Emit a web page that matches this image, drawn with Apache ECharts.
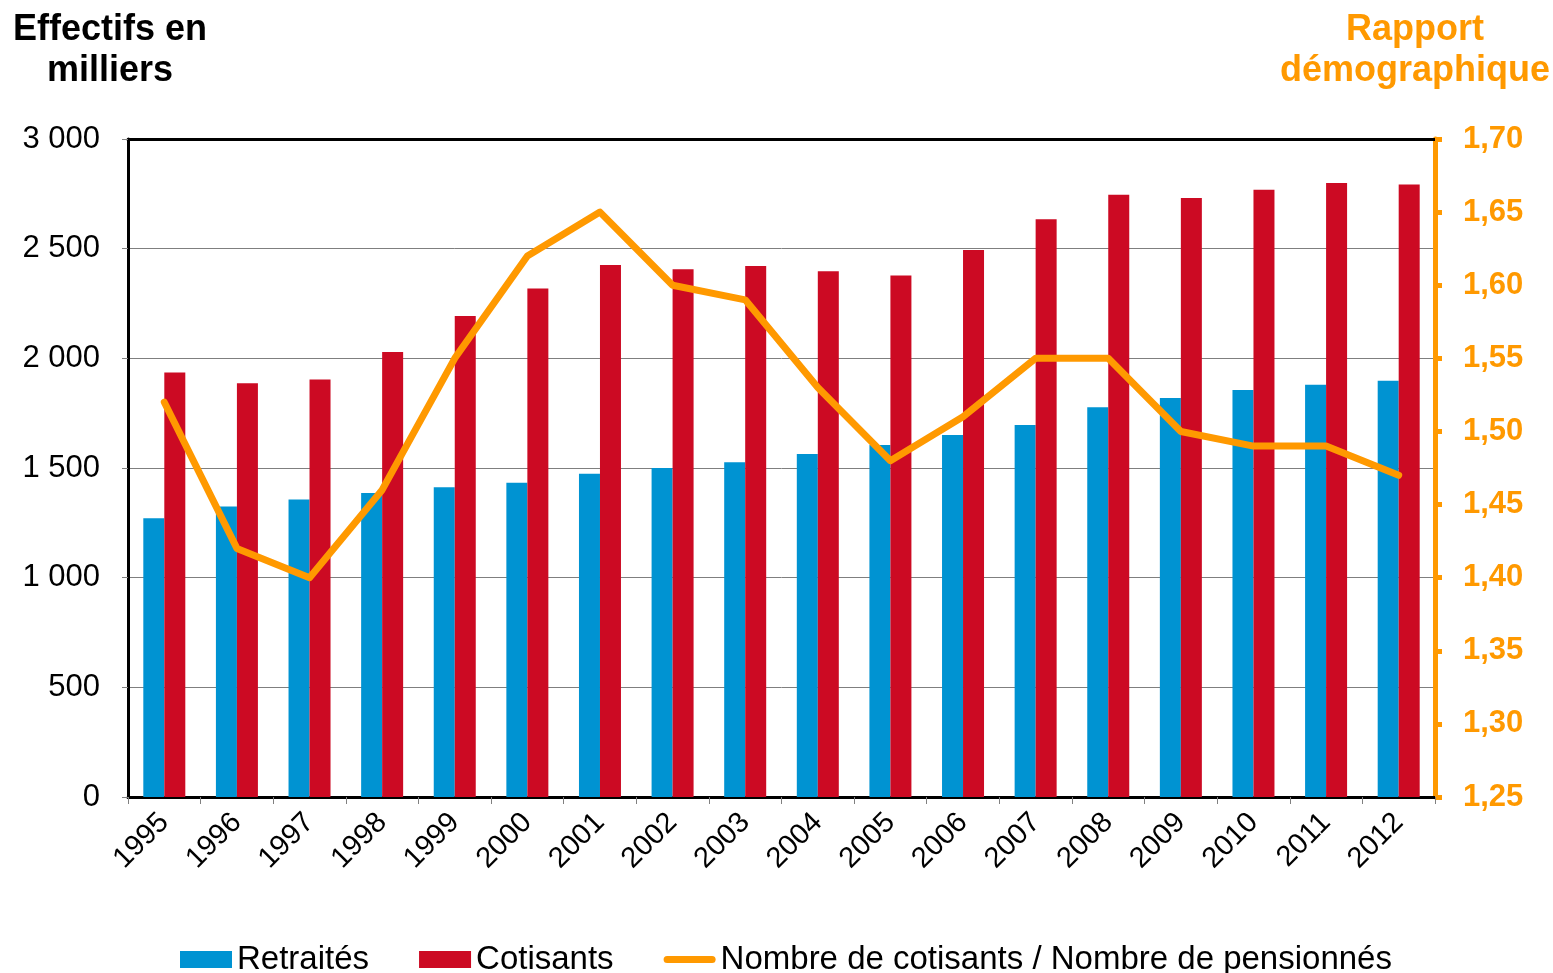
<!DOCTYPE html>
<html>
<head>
<meta charset="utf-8">
<script src="https://cdn.jsdelivr.net/npm/echarts@6/dist/echarts.min.js"></script>
<style>
html,body{margin:0;padding:0;background:#fff;}
#chart{width:1553px;height:973px;}
</style>
</head>
<body>
<div id="chart"></div>
<script>
const years = ['1995','1996','1997','1998','1999','2000','2001','2002','2003','2004','2005','2006','2007','2008','2009','2010','2011','2012'];
const retraites = [1271,1325,1356,1386,1412,1433,1474,1500,1526,1564,1605,1650,1696,1777,1819,1856,1880,1898];
const cotisants = [1935,1886,1904,2029,2193,2318,2425,2406,2421,2397,2378,2494,2634,2746,2731,2769,2799,2792];
const rapport = [1.52,1.42,1.40,1.46,1.55,1.62,1.65,1.60,1.59,1.53,1.48,1.51,1.55,1.55,1.50,1.49,1.49,1.47];
const seriesNames = ['Retraités','Cotisants','Nombre de cotisants / Nombre de pensionnés'];
const leftTitle = 'Effectifs en\nmilliers';
const rightTitle = 'Rapport\ndémographique';

const FONT = '"Liberation Sans", Arial, sans-serif';
const ORANGE = '#FF9900';
const BLUE = '#0093D2';
const RED = '#CC0A23';
const LINE_ICON = 'path://M3.5,0 L48.5,0 A3.5,3.5 0 0 1 48.5,7 L3.5,7 A3.5,3.5 0 0 1 3.5,0 Z';

const chart = echarts.init(document.getElementById('chart'));
chart.setOption({
  animation: false,
  backgroundColor: '#fff',
  textStyle: { fontFamily: FONT },
  grid: { left: 128, right: 118, top: 139, bottom: 176, containLabel: false },
  graphic: [
    { type: 'text', x: 110, y: 10,
      style: { text: leftTitle, fontFamily: FONT, fontSize: 36, fontWeight: 'bold', fill: '#000',
               align: 'center', verticalAlign: 'top', lineHeight: 41 } },
    { type: 'text', x: 1415, y: 10,
      style: { text: rightTitle, fontFamily: FONT, fontSize: 36, fontWeight: 'bold', fill: ORANGE,
               align: 'center', verticalAlign: 'top', lineHeight: 41 } }
  ],
  legend: {
    left: 175, top: 938,
    itemWidth: 52, itemHeight: 17, itemGap: 50,
    textStyle: { fontFamily: FONT, fontSize: 33, color: '#000' },
    data: [
      { name: seriesNames[0], icon: 'rect' },
      { name: seriesNames[1], icon: 'rect' },
      { name: seriesNames[2], icon: LINE_ICON, itemStyle: { color: ORANGE, borderWidth: 0 } }
    ]
  },
  xAxis: [
    {
      type: 'category', data: years, position: 'bottom',
      axisLine: { show: true, lineStyle: { color: '#000', width: 3 } },
      axisTick: { show: true, alignWithLabel: false, length: 7, lineStyle: { color: '#808080', width: 1 } },
      axisLabel: { rotate: 45, margin: 21, fontFamily: FONT, fontSize: 29, color: '#000', interval: 0 },
      splitLine: { show: false }
    },
    {
      type: 'category', data: years, position: 'top',
      axisLine: { show: true, lineStyle: { color: '#000', width: 3 } },
      axisTick: { show: false }, axisLabel: { show: false }, splitLine: { show: false }
    }
  ],
  yAxis: [
    {
      type: 'value', min: 0, max: 3000, interval: 500, position: 'left',
      axisLine: { show: true, lineStyle: { color: '#000', width: 3 } },
      axisTick: { show: true, length: 6, lineStyle: { color: '#808080', width: 1 } },
      axisLabel: { margin: 28, fontFamily: FONT, fontSize: 31, color: '#000',
                   formatter: v => String(v).replace(/\B(?=(\d{3})+(?!\d))/g, ' ') },
      splitLine: { show: true, lineStyle: { color: '#7f7f7f', width: 1 } }
    },
    {
      type: 'value', min: 1.25, max: 1.70, interval: 0.05, position: 'right',
      axisLine: { show: true, lineStyle: { color: ORANGE, width: 5 } },
      axisTick: { show: true, length: 7, lineStyle: { color: ORANGE, width: 5 } },
      axisLabel: { margin: 28, fontFamily: FONT, fontSize: 31, fontWeight: 'bold', color: ORANGE,
                   formatter: v => v.toFixed(2).replace('.', ',') },
      splitLine: { show: false }
    }
  ],
  series: [
    { name: seriesNames[0], type: 'bar', data: retraites, barWidth: 21, barGap: '0%',
      itemStyle: { color: BLUE } },
    { name: seriesNames[1], type: 'bar', data: cotisants, barWidth: 21, barGap: '0%',
      itemStyle: { color: RED } },
    { name: seriesNames[2], type: 'line', yAxisIndex: 1, data: rapport,
      symbol: 'none', z: 5,
      lineStyle: { color: ORANGE, width: 7, cap: 'round', join: 'round' },
      itemStyle: { color: ORANGE } }
  ]
});
</script>
</body>
</html>
